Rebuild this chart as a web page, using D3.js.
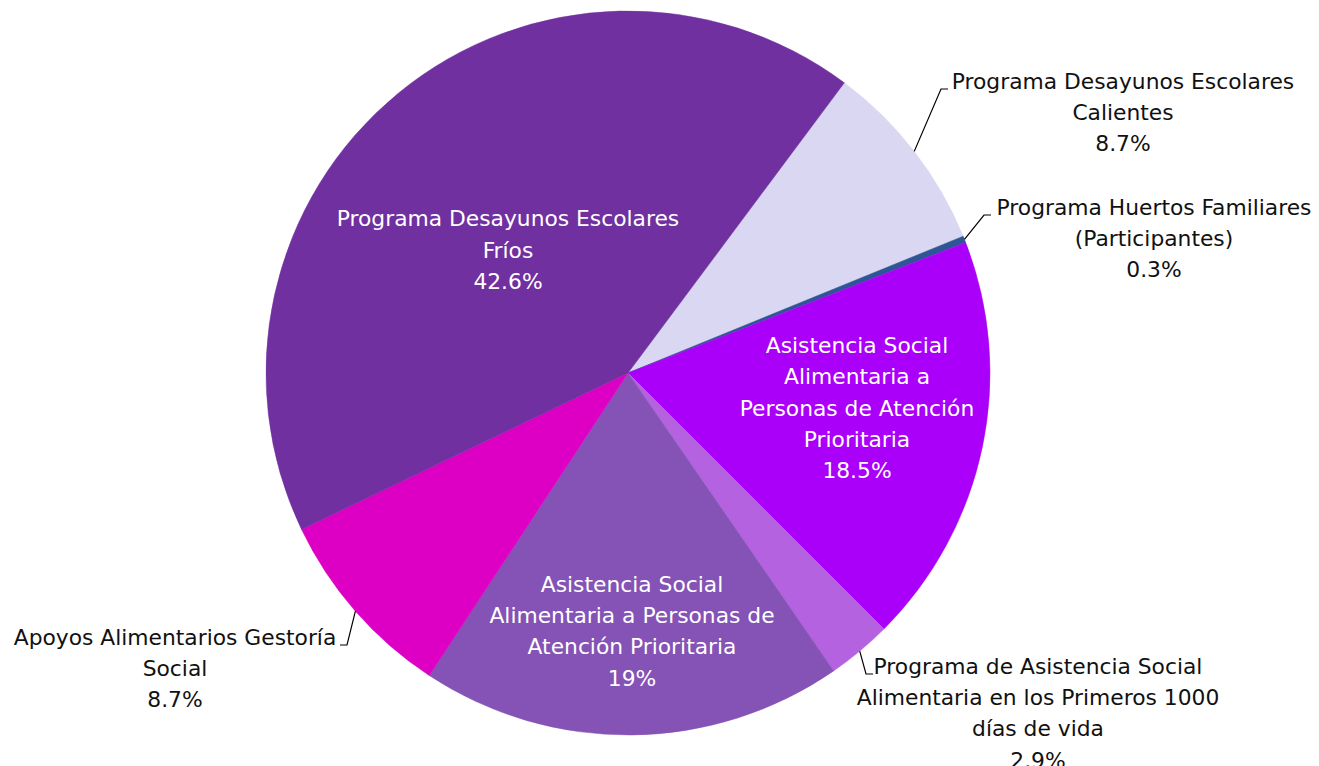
<!DOCTYPE html>
<html>
<head>
<meta charset="utf-8">
<script src="https://cdn.jsdelivr.net/npm/d3@7"></script>
<style>
  body { margin: 0; background: #fff; }
  svg text { font-family: "DejaVu Sans", Arial, sans-serif; font-size: 21.8px; }
</style>
</head>
<body>
<div id="chart"></div>
<script>
// slices, clockwise from the Frios / Calientes boundary
const names = [
  ['Programa Desayunos Escolares', 'Calientes'],
  ['Programa Huertos Familiares', '(Participantes)'],
  ['Asistencia Social', 'Alimentaria a', 'Personas de Atención', 'Prioritaria'],
  ['Programa de Asistencia Social', 'Alimentaria en los Primeros 1000', 'días de vida'],
  ['Asistencia Social', 'Alimentaria a Personas de', 'Atención Prioritaria'],
  ['Apoyos Alimentarios Gestoría', 'Social'],
  ['Programa Desayunos Escolares', 'Fríos']
];
const values = [8.7, 0.3, 18.5, 2.9, 19, 8.7, 42.6];
const pctLabels = ['8.7%', '0.3%', '18.5%', '2.9%', '19%', '8.7%', '42.6%'];
const colors = ['#d9d7f1', '#2f5597', '#aa00fa', '#b562e0', '#8453b5', '#dd00c4', '#7030a0'];

// label placement: inside labels give block centre, outside give connector end
const labelMode = ['out', 'out', 'in', 'out', 'in', 'out', 'in'];
const labelAt = [[948, 89], [991, 215], [857, 408], [873, 674], [632, 631], [340, 645], [508, 250]];
const textX = [1123, 1154, 857, 1038, 632, 175, 508];

const width = 1319, height = 766;
const cx = 628, cy = 373, radius = 362;
const lineH = 31.3;

const svg = d3.select('#chart').append('svg')
  .attr('width', width).attr('height', height);

const start = 36.7 * Math.PI / 180;
const pie = d3.pie().sort(null).value(d => d)
  .startAngle(start).endAngle(start + 2 * Math.PI);
const arcs = pie(values);
const arc = d3.arc().innerRadius(0).outerRadius(radius);

const g = svg.append('g').attr('transform', `translate(${cx},${cy})`);

g.selectAll('path.slice')
  .data(arcs)
  .join('path')
  .attr('class', 'slice')
  .attr('d', arc)
  .attr('fill', (d, i) => colors[i])
  .attr('stroke', (d, i) => colors[i])
  .attr('stroke-width', 0.5);

arcs.forEach((a, i) => {
  const lines = names[i].concat([pctLabels[i]]);
  const [lx, ly] = labelAt[i];
  if (labelMode[i] === 'in') {
    const top = ly - (lines.length - 1) * lineH / 2;
    const t = svg.append('text')
      .attr('text-anchor', 'middle')
      .attr('fill', '#fff');
    lines.forEach((s, k) => {
      t.append('tspan').attr('x', textX[i]).attr('y', top + k * lineH)
        .attr('dy', '0.35em').text(s);
    });
  } else {
    const mid = (a.startAngle + a.endAngle) / 2;
    const px = cx + radius * Math.sin(mid), py = cy - radius * Math.cos(mid);
    const right = lx > cx;
    const ex = right ? lx - 7 : lx + 7;
    svg.append('path')
      .attr('d', `M${px},${py}L${ex},${ly}L${lx},${ly}`)
      .attr('fill', 'none').attr('stroke', '#000').attr('stroke-width', 1.2);
    const t = svg.append('text')
      .attr('text-anchor', 'middle')
      .attr('fill', '#111');
    lines.forEach((s, k) => {
      t.append('tspan').attr('x', textX[i]).attr('y', ly - 8 + k * lineH)
        .attr('dy', '0.35em').text(s);
    });
  }
});
</script>
</body>
</html>
